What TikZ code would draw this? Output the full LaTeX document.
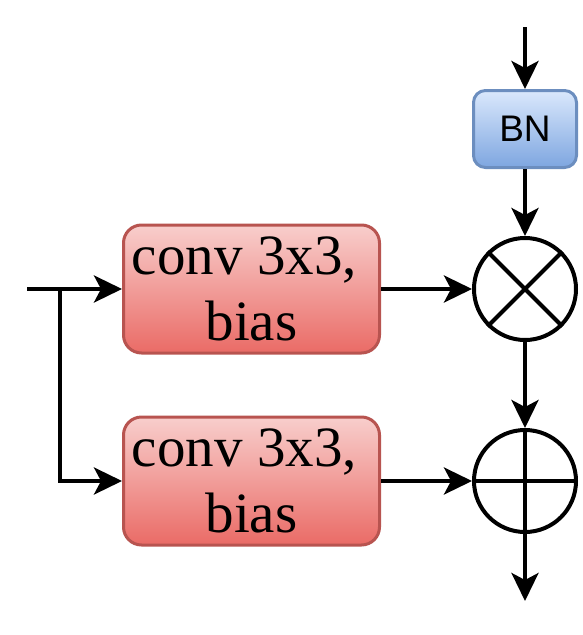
\documentclass[tikz,border=0pt]{standalone}
\usepackage{fontspec}
\setmainfont{Liberation Serif}
\newfontfamily\bnfont{Liberation Sans}
\usetikzlibrary{arrows.meta}
\definecolor{bnTop}{HTML}{DAE8FC}
\definecolor{bnBot}{HTML}{7EA6E0}
\definecolor{bnLine}{HTML}{6C8EBF}
\definecolor{cvTop}{HTML}{F8CECC}
\definecolor{cvBot}{HTML}{EA6B66}
\definecolor{cvLine}{HTML}{B85450}
\tikzset{
  bnbox/.style={draw=bnLine, line width=3pt, rounded corners=12pt, top color=bnTop, bottom color=bnBot,
    minimum width=103pt, minimum height=77pt, inner sep=0pt, font=\bnfont\fontsize{37}{44}\selectfont},
  convbox/.style={draw=cvLine, line width=3pt, rounded corners=18pt, top color=cvTop, bottom color=cvBot,
    minimum width=256pt, minimum height=128pt, inner sep=0pt, align=center, font=\fontsize{57}{66}\selectfont},
  opcircle/.style={circle, draw=black, line width=4pt, minimum size=102pt, inner sep=0pt},
  flow/.style={draw=black, line width=4pt, -{Stealth[length=28pt,width=27pt,inset=7pt]}},
  plainline/.style={draw=black, line width=4pt}
}
\begin{document}
\begin{tikzpicture}[x=1pt,y=-1pt]
\useasboundingbox (0,0) rectangle (582,635);
\node[bnbox] (bn) at (525,129) {BN};
\node[opcircle] (mul) at (525,289) {};
\node[opcircle] (add) at (525,481) {};
\node[convbox] (c1) at (251.5,289) {conv 3x3,\hspace*{0.25em}\\bias};
\node[convbox] (c2) at (251.5,481) {conv 3x3,\hspace*{0.25em}\\bias};
\coordinate (top) at (525,27);
\coordinate (out) at (525,601);
\coordinate (in) at (27,289);
\coordinate (br) at (60,289);
\coordinate (brd) at (60,481);
\draw[plainline] (mul.north west) -- (mul.south east);
\draw[plainline] (mul.north east) -- (mul.south west);
\draw[plainline] (add.north) -- (add.south);
\draw[plainline] (add.west) -- (add.east);
\draw[flow] (top) -- (bn.north);
\draw[flow] (bn.south) -- (mul.north);
\draw[flow] (mul.south) -- (add.north);
\draw[flow] (add.south) -- (out);
\draw[flow] (in) -- (c1.west);
\draw[flow] (br) -- (brd) -- (c2.west);
\draw[flow] (c1.east) -- (mul.west);
\draw[flow] (c2.east) -- (add.west);
\end{tikzpicture}
\end{document}
